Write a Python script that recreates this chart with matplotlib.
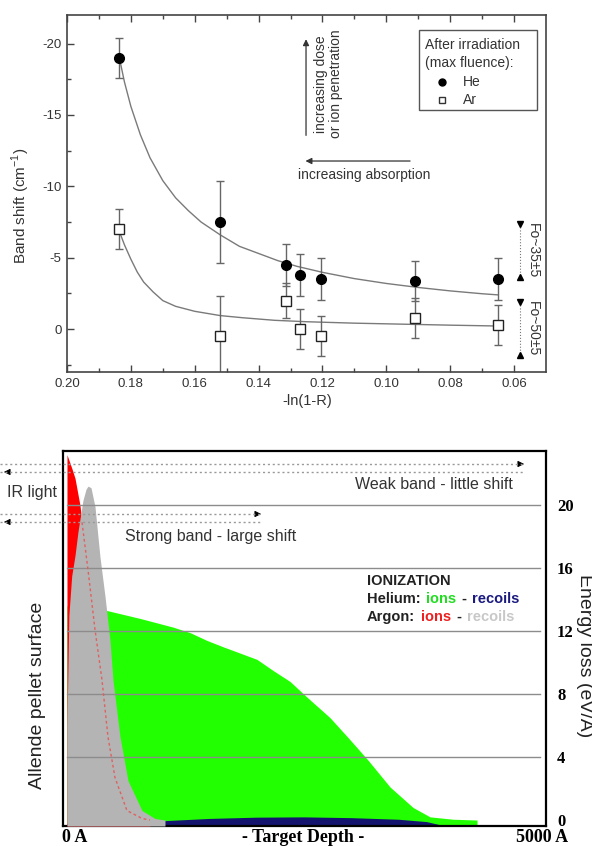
import numpy as np
import matplotlib.pyplot as plt
from matplotlib.lines import Line2D
from matplotlib.patches import Rectangle, FancyArrowPatch
from matplotlib.ticker import FormatStrFormatter

plt.rcParams['font.family'] = ['Liberation Sans', 'DejaVu Sans']
plt.rcParams['axes.unicode_minus'] = False

W, H = 592, 846

# ---- top panel: band shift vs -ln(1-R)
pt_x = [0.1837, 0.152, 0.1313, 0.127, 0.1204, 0.0909, 0.0649]
he_y = [-19.0, -7.5, -4.5, -3.8, -3.5, -3.4, -3.5]
he_err = [1.4, 2.9, 1.45, 1.45, 1.45, 1.4, 1.45]
ar_y = [-7.0, 0.5, -2.0, 0.0, 0.5, -0.75, -0.3]
ar_err = [1.4, 2.8, 1.2, 1.4, 1.4, 1.4, 1.4]

# fit curves
he_fit_x = [0.1837, 0.182, 0.180, 0.177, 0.174, 0.170, 0.166, 0.162, 0.158, 0.152, 0.146,
            0.140, 0.134, 0.128, 0.120, 0.110, 0.100, 0.090, 0.080, 0.070, 0.065]
he_fit_y = [-19.1, -17.3, -15.6, -13.6, -12.0, -10.4, -9.2, -8.3, -7.5, -6.6, -5.8,
            -5.3, -4.8, -4.4, -3.98, -3.54, -3.2, -2.92, -2.68, -2.48, -2.4]
ar_fit_x = [0.1837, 0.182, 0.180, 0.178, 0.176, 0.173, 0.170, 0.166, 0.160, 0.152, 0.145,
            0.135, 0.125, 0.110, 0.095, 0.080, 0.065]
ar_fit_y = [-6.9, -5.9, -4.9, -4.0, -3.3, -2.6, -2.0, -1.6, -1.25, -0.95, -0.8,
            -0.62, -0.52, -0.42, -0.35, -0.28, -0.22]

# ---- bottom panel: energy loss vs depth (Angstrom)
green_x = [0, 423, 772, 1120, 1300, 1480, 1650, 1829, 2008, 2177, 2357, 2537, 2780,
           2991, 3182, 3414, 3657, 3837, 4080, 4334]
green_y = [13.6, 13.3, 12.8, 12.25, 11.9, 11.4, 11.0, 10.6, 10.2, 9.5, 8.8, 7.8, 6.5,
           5.1, 3.8, 2.1, 0.8, 0.2, 0.05, 0.0]
navy_x = [0, 900, 1000, 1500, 2000, 2500, 3000, 3500, 3800, 4000]
navy_y = [-0.2, -0.15, -0.05, 0.1, 0.18, 0.2, 0.15, 0.05, -0.1, -0.38]
red_x = [0, 53, 85, 137, 159, 222, 296, 370, 433, 507, 634, 793, 877]
red_y = [23.2, 22.3, 21.7, 20.0, 18.9, 15.9, 12.1, 8.9, 5.3, 2.7, 0.6, 0.1, 0.0]
gray_x = [0, 20, 50, 85, 116, 169, 201, 222, 254, 296, 349, 402, 455, 486, 560, 645,
          793, 930, 1036]
gray_y = [6.0, 13.0, 15.5, 16.8, 18.3, 20.3, 21.0, 21.2, 21.1, 19.9, 16.7, 14.2, 11.4,
          8.9, 5.3, 2.5, 0.6, 0.1, 0.0]
e_ticks = [0, 4, 8, 12, 16, 20]


def fx(px):
    return px / W


def fy(py):
    return 1 - py / H


fig = plt.figure(figsize=(W / 100, H / 100), dpi=100)

# =================== top panel
ax1 = fig.add_axes([fx(67), fy(372), 479 / W, 357 / H])
ax1.set_xlim(0.20, 0.05)
ax1.set_ylim(3, -22)
ax1.plot(he_fit_x, he_fit_y, color='#7a7a7a', lw=1)
ax1.plot(ar_fit_x, ar_fit_y, color='#7a7a7a', lw=1)
ax1.errorbar(pt_x, he_y, yerr=he_err, fmt='none', ecolor='#666666', elinewidth=1, capsize=3)
ax1.errorbar(pt_x, ar_y, yerr=ar_err, fmt='none', ecolor='#666666', elinewidth=1, capsize=3)
ax1.plot(pt_x, he_y, 'o', color='black', ms=7, zorder=5)
ax1.plot(pt_x, ar_y, 's', mfc='white', mec='#222222', mew=1, ms=6.5, zorder=5)

ax1.set_xticks([0.20, 0.18, 0.16, 0.14, 0.12, 0.10, 0.08, 0.06])
ax1.set_xticks([0.19, 0.17, 0.15, 0.13, 0.11, 0.09, 0.07], minor=True)
ax1.xaxis.set_major_formatter(FormatStrFormatter('%.2f'))
ax1.set_yticks([-20, -15, -10, -5, 0])
ax1.set_yticks([-17.5, -12.5, -7.5, -2.5, 2.5], minor=True)
ax1.tick_params(which='both', direction='in', top=True, right=False, color='#444444',
                labelsize=9.5, labelcolor='#333333')
ax1.tick_params(which='major', length=5, width=1, pad=4)
ax1.tick_params(which='minor', length=3, width=1)
for s in ax1.spines.values():
    s.set_color('#444444')
    s.set_linewidth(1.2)

fig.text(fx(307), fy(401), '-ln(1-R)', ha='center', va='center', fontsize=10.5, color='#333333')
fig.text(fx(21), fy(206), 'Band shift (cm$^{\\mathregular{-1}}$)', rotation=90,
         ha='center', va='center', fontsize=11, color='#333333')

# legend box
ax1.add_patch(Rectangle((0.735, 0.734), 0.246, 0.224, transform=ax1.transAxes,
                        fill=False, ec='#555555', lw=1))
ax1.text(0.747, 0.916, 'After irradiation', transform=ax1.transAxes, fontsize=10,
         va='center', color='#333333')
ax1.text(0.747, 0.866, '(max fluence):', transform=ax1.transAxes, fontsize=10,
         va='center', color='#333333')
ax1.plot([0.783], [0.812], 'o', color='black', ms=5, transform=ax1.transAxes)
ax1.plot([0.783], [0.762], 's', mfc='white', mec='#333333', ms=5, transform=ax1.transAxes)
ax1.text(0.827, 0.812, 'He', transform=ax1.transAxes, fontsize=10, va='center', color='#333333')
ax1.text(0.827, 0.762, 'Ar', transform=ax1.transAxes, fontsize=10, va='center', color='#333333')

# arrows in the top panel
ax1.annotate('', xy=(0.499, 0.94), xytext=(0.499, 0.655), xycoords='axes fraction',
             arrowprops=dict(arrowstyle='-|>', color='#333333', lw=0.9, mutation_scale=9))
ax1.text(0.545, 0.807, 'increasing dose\nor ion penetration', transform=ax1.transAxes,
         rotation=90, ha='center', va='center', fontsize=10, color='#333333',
         multialignment='center', linespacing=1.1)
ax1.annotate('', xy=(0.492, 0.591), xytext=(0.722, 0.591), xycoords='axes fraction',
             arrowprops=dict(arrowstyle='-|>', color='#333333', lw=0.9, mutation_scale=9))
ax1.text(0.62, 0.553, 'increasing absorption', transform=ax1.transAxes,
         ha='center', va='center', fontsize=10, color='#333333')

# Fo markers on the right
for top, bot, lab in [(0.415, 0.266, 'Fo~35±5'), (0.196, 0.048, 'Fo~50±5')]:
    ax1.plot([0.946, 0.946], [top, bot], ls=':', color='#777777', lw=0.8,
             transform=ax1.transAxes)
    ax1.plot([0.946], [top], 'v', color='black', ms=4, transform=ax1.transAxes)
    ax1.plot([0.946], [bot], '^', color='black', ms=4, transform=ax1.transAxes)
    ax1.text(0.972, (top + bot) / 2, lab, transform=ax1.transAxes, rotation=-90,
             ha='center', va='center', fontsize=10, color='#333333')

# =================== bottom panel
ax2 = fig.add_axes([fx(63), fy(826), 483 / W, 375 / H])
ybot = -0.38
ax2.set_xlim(-42, 5063)
ax2.set_ylim(ybot, 23.43)
ax2.fill_between(green_x, ybot, green_y, color='#22ff00', lw=0, zorder=1)
ax2.fill_between(navy_x, ybot, navy_y, color='#14146e', lw=0, zorder=2)
ax2.fill_between(red_x, ybot, red_y, color='#ff0000', lw=0, zorder=3)
ax2.fill_between(gray_x, ybot, gray_y, color='#b4b4b4', lw=0, zorder=4)
ax2.plot(red_x[4:], red_y[4:], color='#e06060', lw=1, ls=(0, (2, 2)), zorder=6)
for v in e_ticks[1:]:
    ax2.axhline(v, xmin=0.008, xmax=0.9876, color='#8c8c8c', lw=1, zorder=5)

ax2.set_xticks([])
ax2.yaxis.tick_right()
ax2.set_yticks(e_ticks)
ax2.set_yticklabels([str(v) for v in e_ticks], fontfamily='Liberation Serif',
                    fontweight='bold', fontsize=12)
ax2.tick_params(axis='y', length=0, pad=8)
for s in ax2.spines.values():
    s.set_color('black')
    s.set_linewidth(1.6)

serif = dict(fontfamily='Liberation Serif', fontweight='bold', fontsize=13)
fig.text(fx(62), fy(837), '0 A', ha='left', va='center', **serif)
fig.text(fx(303), fy(837), '- Target Depth -', ha='center', va='center', **serif)
fig.text(fx(568), fy(837), '5000 A', ha='right', va='center', **serif)

fig.text(fx(38), fy(695), 'Allende pellet surface', rotation=90, ha='center',
         va='center', fontsize=14, color='#222222')
fig.text(fx(584), fy(656), 'Energy loss (eV/A)', rotation=-90, ha='center',
         va='center', fontsize=14, color='#222222')

fig.text(fx(7), fy(492), 'IR light', ha='left', va='center', fontsize=11.5, color='#333333')
fig.text(fx(513), fy(484), 'Weak band - little shift', ha='right', va='center',
         fontsize=11.5, color='#333333')
fig.text(fx(125), fy(536), 'Strong band - large shift', ha='left', va='center',
         fontsize=11.5, color='#333333')

# dotted arrows
dot = dict(ls=(0, (1.5, 2)), color='#999999', lw=1, transform=fig.transFigure)
for y0, x1 in [(464, 525), (472, 525), (514, 262), (522, 262)]:
    fig.add_artist(Line2D([fx(0), fx(x1)], [fy(y0), fy(y0)], **dot))
head = dict(arrowstyle='-|>', color='black', lw=0.8, mutation_scale=9)
for (xt, x0, y0) in [(527, 516, 464), (1, 12, 472), (264, 253, 514), (1, 12, 522)]:
    fig.add_artist(FancyArrowPatch((fx(x0), fy(y0)), (fx(xt), fy(y0)),
                                   transform=fig.transFigure, **head))

# IONIZATION text block (coloured words chained one after another)
bold = dict(fontweight='bold', fontsize=10.5)
fig.text(fx(367), fy(581), 'IONIZATION', ha='left', va='center', color='#222222', **bold)
rows = [(599, [('Helium:', '#222222'), ('ions', '#22dd22'), ('-', '#222222'),
               ('recoils', '#1a1a80')]),
        (617, [('Argon:', '#222222'), ('ions', '#ee2020'), ('-', '#222222'),
               ('recoils', '#c8c8c8')])]
for yy, parts in rows:
    prev = fig.text(fx(367), fy(yy), parts[0][0], ha='left', va='center',
                    color=parts[0][1], **bold)
    for txt, col in parts[1:]:
        prev = ax2.annotate(txt, xy=(1, 0.5), xycoords=prev, xytext=(4, 0),
                            textcoords='offset points', ha='left', va='center',
                            color=col, annotation_clip=False, zorder=10, **bold)

fig.savefig('out.png', dpi=100)
